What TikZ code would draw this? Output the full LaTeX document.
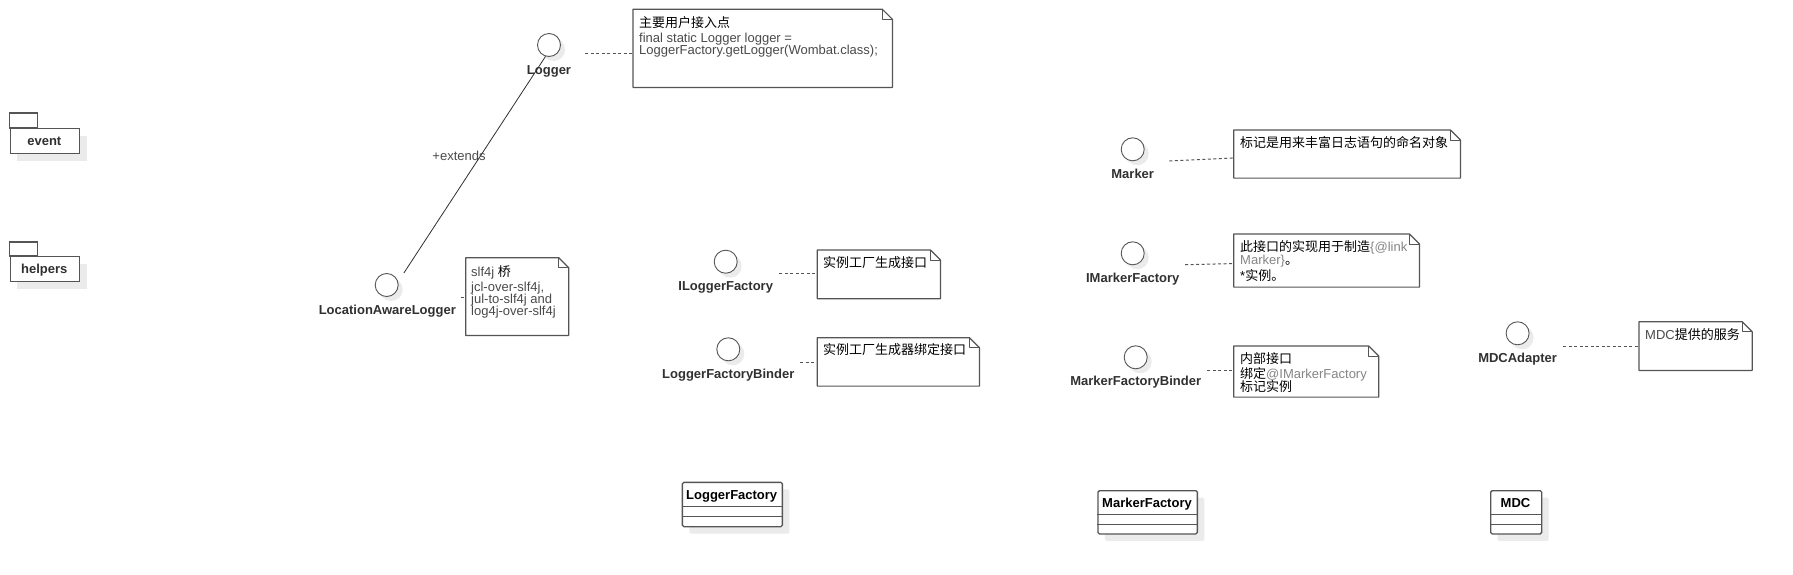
\documentclass[tikz,border=0pt]{standalone}
\usepackage{fontspec}
\setmainfont{Liberation Sans}
\newfontfamily\cjk{Noto Sans CJK SC}
\usetikzlibrary{shadows}
\definecolor{lc}{HTML}{555555}
\definecolor{tc}{HTML}{303030}
\definecolor{lt}{HTML}{4A4A4A}
\definecolor{lk}{HTML}{858585}
\definecolor{sh}{HTML}{EBEBEB}
\newcommand\zh[1]{{\cjk\color{black}#1}}
\newcommand\drawnote[5]{%
  \node[notebox, minimum width={(#4-#2)*1pt}, minimum height={(#5-#3)*1pt}] (#1) at (#2,#3) {};
  \draw[noteline, fill=white] (#1.north west) -- ([xshift=-10pt]#1.north east) -- ([yshift=-10pt]#1.north east) -- (#1.south east) -- (#1.south west) -- cycle;
  \draw[noteline, line width=0.9pt] ([xshift=-10pt]#1.north east) -- ([xshift=-10pt,yshift=-10pt]#1.north east) -- ([yshift=-10pt]#1.north east);
}
\begin{document}
\begin{tikzpicture}[x=1pt,y=-1pt,
  every node/.style={font=\fontsize{13}{15}\selectfont},
  iface/.style={circle, draw=lc, line width=0.9pt, fill=white, minimum size=23pt, inner sep=0,
    general shadow={fill=sh, shadow xshift=4.5pt, shadow yshift=-4.5pt}},
  ilabel/.style={anchor=base, inner sep=0, text=tc, font=\fontsize{13}{15}\selectfont\bfseries},
  notebox/.style={rectangle, inner sep=0, anchor=north west},
  noteline/.style={draw=lc, line width=1.2pt, line join=round},
  ntext/.style={anchor=base west, inner sep=0, text=lt},
  link/.style={draw=lc, line width=1pt, dash pattern=on 3pt off 2.5pt},
  assoc/.style={draw=tc, line width=0.8pt},
  classbox/.style={rectangle, draw=lc, line width=1.3pt, fill=white, rounded corners=1.5pt, inner sep=0, anchor=north west,
    general shadow={fill=sh, shadow xshift=7pt, shadow yshift=-7pt}},
  pkgbody/.style={rectangle, draw=lc, line width=1.3pt, fill=white, inner sep=0, anchor=north west,
    minimum width=69.4pt, minimum height=25pt,
    general shadow={fill=sh, shadow xshift=7pt, shadow yshift=-7pt}},
  pkgtab/.style={draw=lc, line width=1.1pt, fill=white},
]
\fill[white] (0,0) rectangle (1793,574);
\useasboundingbox (0,0) rectangle (1793,574);

% packages
\node[pkgbody] (event) at (9.6,128) {};
\draw[pkgtab] (event.north west) rectangle ++(28,-15);
\node[ilabel] (eventlbl) at (44.3,145.6) {event};
\node[pkgbody] (helpers) at (9.6,256) {};
\draw[pkgtab] (helpers.north west) rectangle ++(28,-14);
\node[ilabel] (helperslbl) at (44.3,273.3) {helpers};

% interfaces
\node[iface] (logger) at (549,45) {};
\node[ilabel] (loggerlbl) at (549,74.7) {Logger};
\node[iface] (lal) at (386.7,285) {};
\node[ilabel] (lallbl) at (387.3,314.7) {LocationAwareLogger};
\node[iface] (ilf) at (725.7,261.7) {};
\node[ilabel] (ilflbl) at (725.7,290.7) {ILoggerFactory};
\node[iface] (lfb) at (728.3,349.3) {};
\node[ilabel] (lfblbl) at (728.3,378) {LoggerFactoryBinder};
\node[iface] (marker) at (1132.7,149.3) {};
\node[ilabel] (markerlbl) at (1132.7,178) {Marker};
\node[iface] (imf) at (1132.7,253.3) {};
\node[ilabel] (imflbl) at (1132.7,282) {IMarkerFactory};
\node[iface] (mfb) at (1135.7,357.3) {};
\node[ilabel] (mfblbl) at (1135.7,385.7) {MarkerFactoryBinder};
\node[iface] (mdca) at (1517.6,333.3) {};
\node[ilabel] (mdcalbl) at (1517.6,362) {MDCAdapter};

% extends association
\draw[assoc] (logger.253) -- ([shift={(35:21pt)}]lal.center);
\node[anchor=center, inner sep=0, text=lt] (extlbl) at (459,155.5) {+extends};

% notes
\drawnote{loggernote}{633}{9.3}{892}{87}
\drawnote{slfnote}{465.7}{257.7}{568.3}{335}
\drawnote{ilfnote}{817.3}{250}{940}{298.3}
\drawnote{lfbnote}{817.3}{337.7}{979}{385.7}
\drawnote{markernote}{1233.7}{130}{1460}{177.7}
\drawnote{imfnote}{1233.7}{234}{1419}{286.7}
\drawnote{mfbnote}{1233.7}{346}{1378.3}{396.7}
\drawnote{mdcnote}{1639}{321.7}{1751.8}{370}

% note texts
\node[ntext] (t1a) at (639,27.4) {\zh{主要用户接入点}};
\node[ntext] (t1b) at (639,42.4) {final static Logger logger =};
\node[ntext] (t1c) at (639,54.7) {LoggerFactory.getLogger(Wombat.class);};
\node[ntext] (t2a) at (471,276.4) {slf4j \zh{桥}};
\node[ntext] (t2b) at (471,291.4) {jcl-over-slf4j,};
\node[ntext] (t2c) at (471,303) {jul-to-slf4j and};
\node[ntext] (t2d) at (471,315.7) {log4j-over-slf4j};
\node[ntext] (t3a) at (823,267) {\zh{实例工厂生成接口}};
\node[ntext] (t4a) at (823,354.7) {\zh{实例工厂生成器绑定接口}};
\node[ntext] (t5a) at (1240,147.4) {\zh{标记是用来丰富日志语句的命名对象}};
\node[ntext] (t6a) at (1240,251.4) {\zh{此接口的实现用于制造}\textcolor{lk}{\{@link}};
\node[ntext] (t6b) at (1240,264) {\textcolor{lk}{Marker\}}\zh{。}};
\node[ntext] (t6c) at (1240,280) {\textcolor{black}{*}\zh{实例。}};
\node[ntext] (t7a) at (1240,363) {\zh{内部接口}};
\node[ntext] (t7b) at (1240,378) {\zh{绑定}\textcolor{lk}{@IMarkerFactory}};
\node[ntext] (t7c) at (1240,391.4) {\zh{标记实例}};
\node[ntext] (t8a) at (1645,339) {MDC\zh{提供的服务}};

% note links
\coordinate (c1) at (585,53.3);
\coordinate (c2) at (460.5,297);
\coordinate (c3) at (779.3,273.3);
\coordinate (c4) at (800,362);
\coordinate (c5) at (1169.3,161);
\coordinate (c6) at (1185,264.7);
\coordinate (c7) at (1207.3,370);
\coordinate (c8) at (1563,346);
\draw[link] (c1) -- (c1 -| loggernote.west);
\draw[link] (c2) -- (c2 -| slfnote.west);
\draw[link] (c3) -- (c3 -| ilfnote.west);
\draw[link] (c4) -- (c4 -| lfbnote.west);
\draw[link] (c5) -- ([yshift=-3.85pt]markernote.west);
\draw[link] (c6) -- ([yshift=-3pt]imfnote.west);
\draw[link] (c7) -- (c7 -| mfbnote.west);
\draw[link] (c8) -- (c8 -| mdcnote.west);

% classes
\node[classbox, minimum width=100pt, minimum height=44.3pt] (lf) at (681.7,481.7) {};
\draw[lc, line width=1.3pt] (lf.west |- 0,506.7) -- (lf.east |- 0,506.7);
\draw[lc, line width=1.3pt] (lf.west |- 0,516.7) -- (lf.east |- 0,516.7);
\node[ilabel, text=black] (lflbl) at (731.7,499.7) {LoggerFactory};

\node[classbox, minimum width=99.4pt, minimum height=43.3pt] (mf) at (1097.3,490) {};
\draw[lc, line width=1.3pt] (mf.west |- 0,514.3) -- (mf.east |- 0,514.3);
\draw[lc, line width=1.3pt] (mf.west |- 0,524.3) -- (mf.east |- 0,524.3);
\node[ilabel, text=black] (mflbl) at (1147,507.4) {MarkerFactory};

\node[classbox, minimum width=51pt, minimum height=43.3pt] (mdc) at (1490,490) {};
\draw[lc, line width=1.3pt] (mdc.west |- 0,514.3) -- (mdc.east |- 0,514.3);
\draw[lc, line width=1.3pt] (mdc.west |- 0,524.3) -- (mdc.east |- 0,524.3);
\node[ilabel, text=black] (mdclbl) at (1515.5,507.4) {MDC};
\end{tikzpicture}
\end{document}
